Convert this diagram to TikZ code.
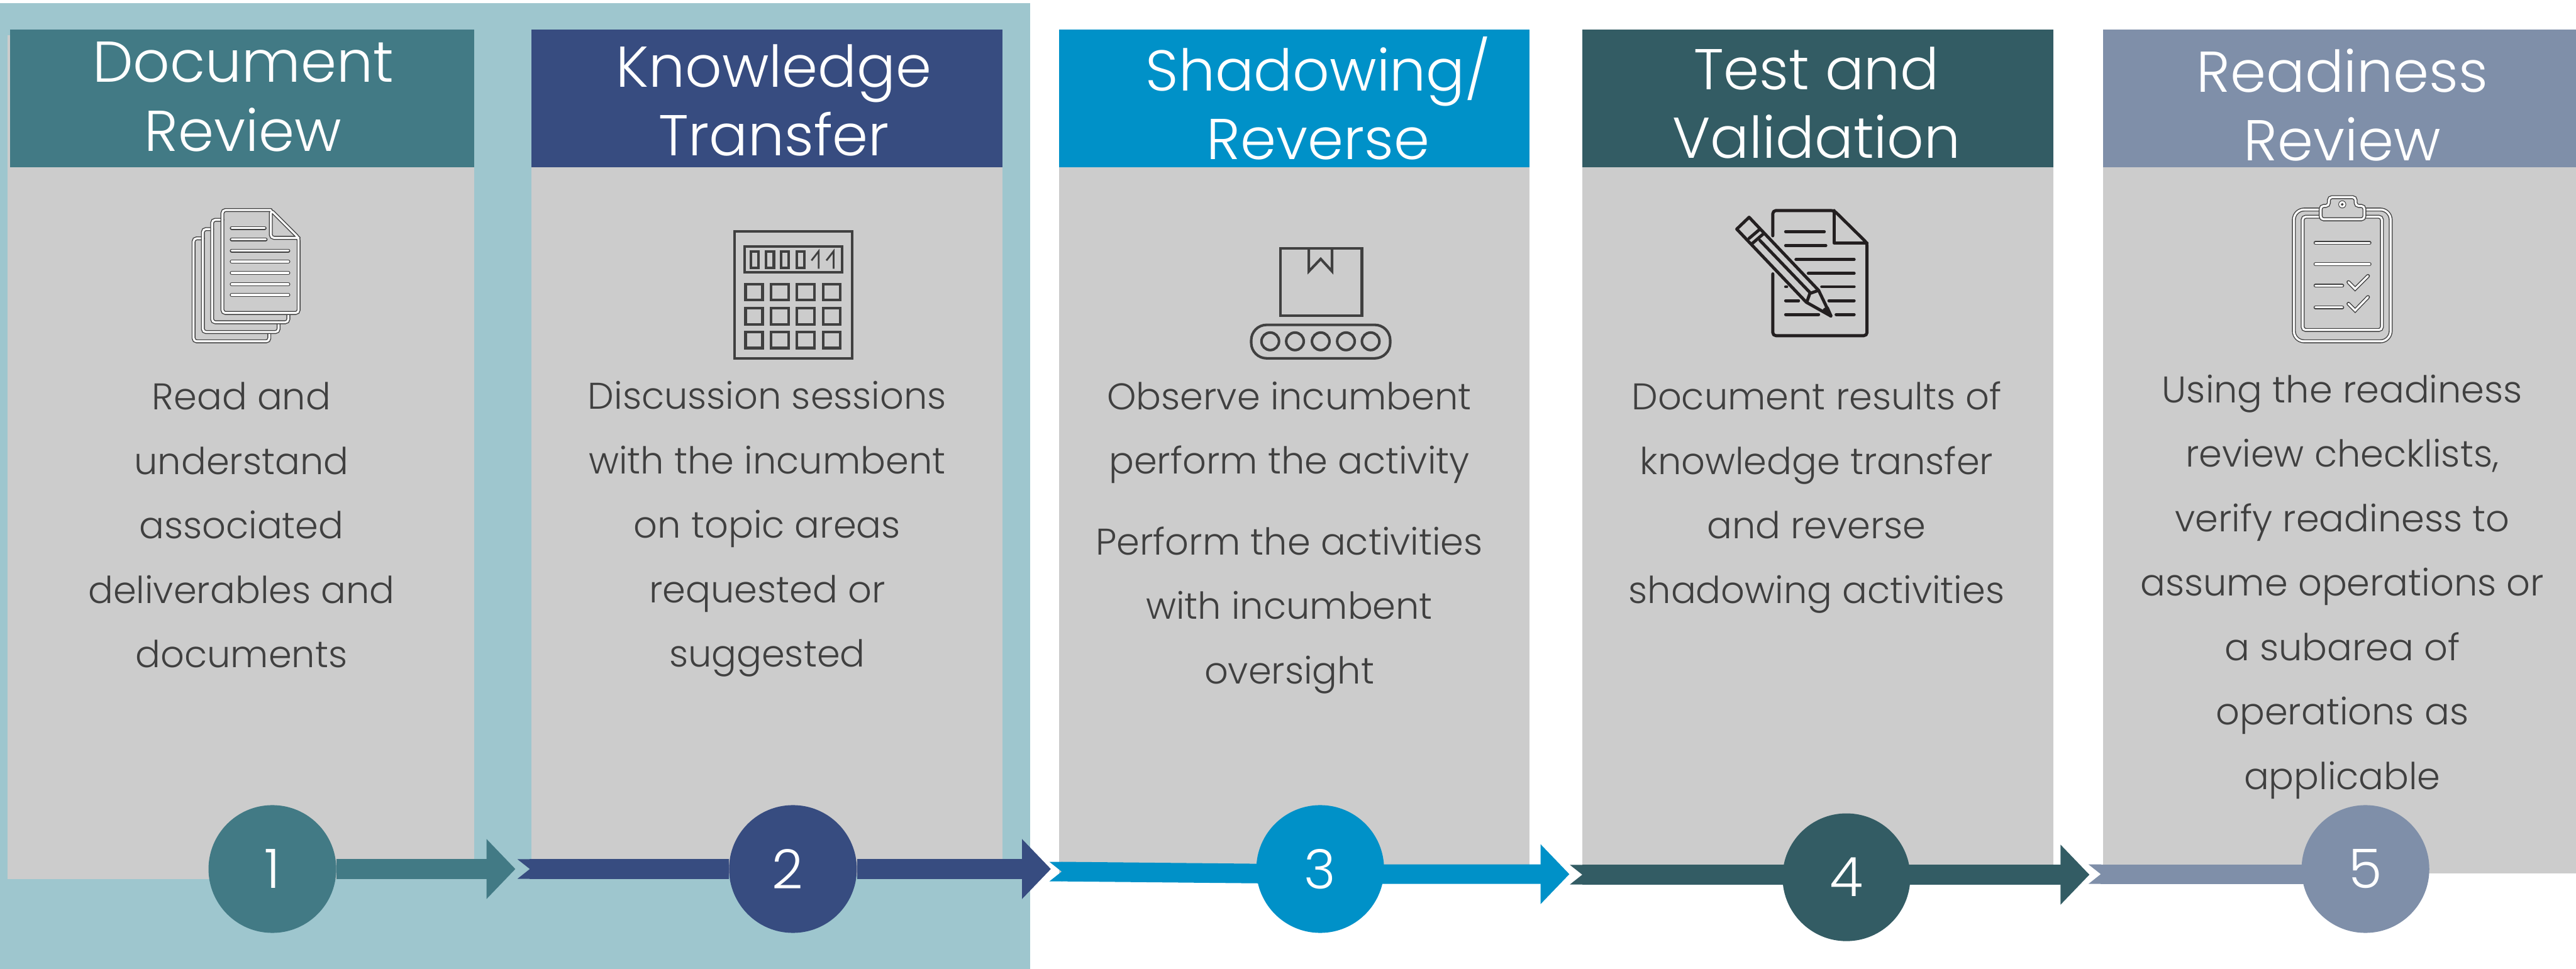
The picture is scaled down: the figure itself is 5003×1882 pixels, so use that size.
\documentclass[tikz,border=0pt]{standalone}
\usepackage{fontspec}
\setmainfont{Poppins}[UprightFont=* Light]
\usetikzlibrary{arrows.meta,backgrounds}
\definecolor{tealbg}{HTML}{9EC6CE}
\definecolor{panelgray}{HTML}{CCCCCC}
\definecolor{stepone}{HTML}{427A85}
\definecolor{steptwo}{HTML}{374C80}
\definecolor{stepthree}{HTML}{0091C8}
\definecolor{stepfour}{HTML}{335C64}
\definecolor{stepfive}{HTML}{7F8FA9}
\definecolor{icongray}{HTML}{404040}
\definecolor{iconblack}{HTML}{231F20}
\newcommand{\notchtail}[2]{\fill[#1] (#2) -- ++(-24,-19) -- ++(25,0) -- ++(0,38) -- ++(-25,0) -- cycle;}
\tikzset{
  headtext/.style={text=white,align=center,font=\fontsize{31.8}{38}\selectfont},
  bodytext/.style={text=icongray,align=center,font=\fontsize{20.5}{35.6}\selectfont},
  stepdot/.style={circle,minimum size=2.48cm,inner sep=0pt,text=white,font=\fontsize{30}{36}\selectfont},
  flowline/.style={line width=0.38cm,-{Triangle[length=5.6mm,width=11.3mm]}},
  flowtail/.style={line width=0.38cm},
  whiteline/.style={icongray,line width=0.017cm,double=white,double distance=0.04cm,line cap=round,rounded corners=0.06cm},
  grayline/.style={icongray,line width=0.05cm},
  inkline/.style={iconblack,line width=0.06cm,line cap=round,line join=round},
  inkbar/.style={iconblack,line width=0.06cm,line cap=round}
}
\begin{document}
\begin{tikzpicture}[x=0.01cm,y=-0.01cm]
\useasboundingbox (0,0) rectangle (5003,1882);

\begin{scope}[on background layer]
\fill[tealbg] (0,6) rectangle (2001,1882);

\fill[panelgray] (15,68) rectangle (921,1708);
\fill[panelgray] (1032,325) rectangle (1947,1700);
\fill[panelgray] (2057,325) rectangle (2971,1700);
\fill[panelgray] (3073,325) rectangle (3988,1700);
\fill[panelgray] (4085,325) rectangle (5003,1697);

\fill[stepone] (20,57) rectangle (921,325);
\fill[steptwo] (1032,57) rectangle (1947,325);
\fill[stepthree] (2057,57) rectangle (2971,325);
\fill[stepfour] (3073,57) rectangle (3988,325);
\fill[stepfive] (4085,57) rectangle (5003,325);
\end{scope}

\node[headtext] (headone) at (472,188) {Document\\Review};
\node[headtext] (headtwo) at (1503,195) {Knowledge\\Transfer};
\node[headtext] (headthree) at (2560,191) {Shadowing/\\Reverse};
\node[headtext] (headfour) at (3528,200) {Test and\\Validation};
\node[headtext] (headfive) at (4549,204) {Readiness\\Review};

\node[bodytext] (textone) at (469,1020) {Read and\\understand\\associated\\deliverables and\\documents};
\node[bodytext] (texttwo) at (1490,1028) {Discussion sessions\\with the incumbent\\on topic areas\\requested or\\suggested};
\node[bodytext] (textthreea) at (2504,840) {Observe incumbent\\perform the activity};
\node[bodytext] (textthreeb) at (2504,1185) {Perform the activities\\with incumbent\\oversight};
\node[bodytext] (textfour) at (3528,966) {Document results of\\knowledge transfer\\and reverse\\shadowing activities};
\node[bodytext] (textfive) at (4549,1140) {Using the readiness\\review checklists,\\verify readiness to\\assume operations or\\a subarea of\\operations as\\applicable};

\node[stepdot,fill=stepone] (numone) at (529,1688) {1};
\node[stepdot,fill=steptwo] (numtwo) at (1540,1688) {\hspace*{-0.2cm}2};
\node[stepdot,fill=stepthree] (numthree) at (2564,1688) {3};
\node[stepdot,fill=stepfour] (numfour) at (3586,1704) {4};
\node[stepdot,fill=stepfive] (numfive) at (4594,1688) {5};

\coordinate (tipone) at (1001,1688);
\coordinate (tailtwo) at (1029,1688);
\coordinate (tiptwo) at (2041,1688);
\coordinate (tailthree) at (2062,1693);
\coordinate (tipthree) at (3048,1698);
\coordinate (tailfour) at (3073,1699);
\coordinate (tipfour) at (4058,1699);
\coordinate (tailfive) at (4080,1698);

\begin{scope}[on background layer]
\draw[flowline,stepone] (numone) -- (tipone);
\notchtail{steptwo}{tailtwo}
\draw[flowline,steptwo] (tailtwo) -- (numtwo) -- (tiptwo);
\notchtail{stepthree}{tailthree}
\draw[flowline,stepthree] (tailthree) -- (numthree |- tipthree) -- (tipthree);
\notchtail{stepfour}{tailfour}
\draw[flowline,stepfour] (tailfour) -- (numfour |- tailfour) -- (tipfour);
\notchtail{stepfive}{tailfive}
\draw[flowtail,stepfive] (tailfive) -- (numfive |- tailfive);
\end{scope}

%document stack
\draw[whiteline] (523,645) -- (523,663) -- (376,663) -- (376,463) -- (394,463);
\draw[whiteline] (541,626) -- (541,645) -- (394,645) -- (394,445) -- (412,445);
\draw[whiteline] (560,608) -- (560,626) -- (412,626) -- (412,427) -- (432,427);
\draw[whiteline] (526,408) -- (432,408) -- (432,608) -- (580,608) -- (580,462) -- (526,408) -- (526,462) -- (580,462);
\draw[whiteline] (450,443) -- (514,443);
\draw[whiteline] (450,465) -- (516,465);
\draw[whiteline] (450,487) -- (560,487);
\draw[whiteline] (450,508) -- (560,508);
\draw[whiteline] (450,530) -- (560,530);
\draw[whiteline] (450,552) -- (560,552);
\draw[whiteline] (450,573) -- (560,573);

%calculator
\draw[grayline] (1427,450) rectangle (1655,696);
\draw[grayline] (1446,479) rectangle (1636,529);
\draw[grayline] (1458,489) rectangle (1473,520);
\draw[grayline] (1488,489) rectangle (1503,520);
\draw[grayline] (1517,489) rectangle (1532,520);
\draw[grayline] (1547,489) rectangle (1562,520);
\draw[icongray,line width=0.035cm] (1576,506) -- (1590,488) -- (1590,522);
\draw[icongray,line width=0.035cm] (1605,506) -- (1619,488) -- (1619,522);
\draw[grayline] (1448,552) rectangle (1481,583);
\draw[grayline] (1498,552) rectangle (1532,583);
\draw[grayline] (1548,552) rectangle (1582,583);
\draw[grayline] (1599,552) rectangle (1632,583);
\draw[grayline] (1448,599) rectangle (1481,630);
\draw[grayline] (1498,599) rectangle (1532,630);
\draw[grayline] (1548,599) rectangle (1582,630);
\draw[grayline] (1599,599) rectangle (1632,630);
\draw[grayline] (1448,645) rectangle (1481,676);
\draw[grayline] (1498,645) rectangle (1532,676);
\draw[grayline] (1548,645) rectangle (1582,676);
\draw[grayline] (1599,645) rectangle (1632,676);

%box on conveyor
\draw[grayline] (2487,483) rectangle (2645,613);
\draw[grayline] (2542,483) -- (2542,527) -- (2565,503) -- (2587,527) -- (2587,483);
\draw[grayline,rounded corners=0.3cm] (2430,631) rectangle (2700,696);
\draw[grayline] (2467,663) circle (17);
\draw[grayline] (2515,663) circle (17);
\draw[grayline] (2565,663) circle (17);
\draw[grayline] (2614,663) circle (17);
\draw[grayline] (2662,663) circle (17);

%page and pencil
\draw[inkline,rounded corners=0.06cm] (3443,458) -- (3443,409) -- (3562,409) -- (3626,472) -- (3626,652) -- (3443,652) -- (3443,532);
\draw[inkline] (3562,409) -- (3562,472) -- (3626,472);
\draw[inkbar] (3468,450) -- (3543,450);
\draw[inkbar] (3468,477) -- (3546,477);
\draw[inkbar] (3488,504) -- (3601,504);
\draw[inkbar] (3512,531) -- (3601,531);
\draw[inkbar] (3538,557) -- (3601,557);
\draw[inkbar] (3468,557) -- (3470,557);
\draw[inkbar] (3468,584) -- (3493,584);
\draw[inkbar] (3552,584) -- (3601,584);
\draw[inkbar] (3468,611) -- (3532,611);
\draw[inkbar] (3566,611) -- (3601,611);
\draw[inkline] (3397,422) -- (3373,445) -- (3508,587) -- (3556,614) -- (3532,564) -- cycle;
\draw[inkline] (3397,463) -- (3417,446);
\draw[inkline] (3403,473) -- (3425,454);
\draw[inkline] (3418,467) -- (3515,568);
\draw[inkline] (3515,570) -- (3532,564);
\draw[inkline] (3515,570) -- (3509,587);
\draw[inkline,fill=iconblack] (3543,602) -- (3549,598) -- (3556,614) -- cycle;

%clipboard
\draw[whiteline,rounded corners=0.2cm] (4503,407) -- (4455,407) -- (4455,663) -- (4643,663) -- (4643,407) -- (4595,407);
\draw[whiteline] (4505,421) -- (4472,421) -- (4472,641) -- (4626,641) -- (4626,421) -- (4595,421);
\draw[whiteline] (4523,383) -- (4575,383) -- (4575,400) -- (4592,400) -- (4592,426) -- (4507,426) -- (4507,400) -- (4523,400) -- cycle;
\draw[icongray,line width=0.012cm,fill=white] (4549,397) circle (7);
\draw[icongray,line width=0.012cm,fill=icongray] (4549,397) circle (2);
\draw[whiteline] (4497,472) -- (4602,472);
\draw[whiteline] (4497,513) -- (4602,513);
\draw[whiteline] (4497,555) -- (4549,555);
\draw[whiteline] (4497,597) -- (4549,597);
\draw[whiteline,rounded corners=0pt] (4561,548) -- (4574,561) -- (4599,536);
\draw[whiteline,rounded corners=0pt] (4561,590) -- (4574,603) -- (4599,577);
\end{tikzpicture}
\end{document}
